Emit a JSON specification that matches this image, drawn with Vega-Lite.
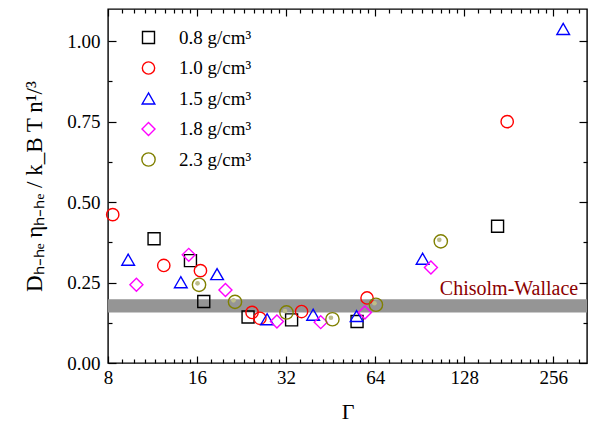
{
  "$schema": "https://vega.github.io/schema/vega-lite/v6.json",
  "width": 479,
  "height": 354,
  "autosize": {"type": "none"},
  "padding": {"left": 108, "top": 9, "right": 9, "bottom": 68},
  "background": "white",
  "config": {
    "view": {"stroke": "black", "strokeWidth": 1.4},
    "font": "Liberation Serif",
    "axis": {
      "grid": false,
      "domain": false,
      "labelFont": "Liberation Serif",
      "labelFontSize": 19,
      "labelColor": "black",
      "tickColor": "black",
      "tickWidth": 1.2,
      "titleFont": "Liberation Serif",
      "titleFontWeight": "normal",
      "titleColor": "black",
      "labelOverlap": false,
      "labelFlush": false
    },
    "legend": {
      "orient": "none",
      "legendX": 31,
      "legendY": 19,
      "padding": 0,
      "labelFont": "Liberation Serif",
      "labelFontSize": 19,
      "labelColor": "black",
      "labelOffset": 21,
      "rowPadding": 10.5,
      "symbolStrokeWidth": 1.4
    }
  },
  "datasets": {
    "pts": [
      {"rho": "0.8 g/cm³", "gamma": 11.45, "d": 0.386},
      {"rho": "0.8 g/cm³", "gamma": 15.2, "d": 0.318},
      {"rho": "0.8 g/cm³", "gamma": 16.86, "d": 0.191},
      {"rho": "0.8 g/cm³", "gamma": 23.8, "d": 0.143},
      {"rho": "0.8 g/cm³", "gamma": 33.4, "d": 0.134},
      {"rho": "0.8 g/cm³", "gamma": 55.6, "d": 0.129},
      {"rho": "0.8 g/cm³", "gamma": 166, "d": 0.425},
      {"rho": "1.0 g/cm³", "gamma": 8.3, "d": 0.461},
      {"rho": "1.0 g/cm³", "gamma": 12.35, "d": 0.303},
      {"rho": "1.0 g/cm³", "gamma": 16.43, "d": 0.287},
      {"rho": "1.0 g/cm³", "gamma": 24.55, "d": 0.157},
      {"rho": "1.0 g/cm³", "gamma": 26.1, "d": 0.139},
      {"rho": "1.0 g/cm³", "gamma": 36.1, "d": 0.16},
      {"rho": "1.0 g/cm³", "gamma": 60.1, "d": 0.202},
      {"rho": "1.0 g/cm³", "gamma": 178.9, "d": 0.75},
      {"rho": "1.5 g/cm³", "gamma": 9.36, "d": 0.321},
      {"rho": "1.5 g/cm³", "gamma": 14.1, "d": 0.251},
      {"rho": "1.5 g/cm³", "gamma": 18.7, "d": 0.276},
      {"rho": "1.5 g/cm³", "gamma": 27.6, "d": 0.136},
      {"rho": "1.5 g/cm³", "gamma": 39.5, "d": 0.15},
      {"rho": "1.5 g/cm³", "gamma": 55.4, "d": 0.146},
      {"rho": "1.5 g/cm³", "gamma": 92.6, "d": 0.324},
      {"rho": "1.5 g/cm³", "gamma": 276.7, "d": 1.038},
      {"rho": "1.8 g/cm³", "gamma": 9.98, "d": 0.243},
      {"rho": "1.8 g/cm³", "gamma": 15.0, "d": 0.336},
      {"rho": "1.8 g/cm³", "gamma": 19.96, "d": 0.227},
      {"rho": "1.8 g/cm³", "gamma": 29.8, "d": 0.129},
      {"rho": "1.8 g/cm³", "gamma": 41.9, "d": 0.127},
      {"rho": "1.8 g/cm³", "gamma": 59.1, "d": 0.157},
      {"rho": "1.8 g/cm³", "gamma": 98.8, "d": 0.297},
      {"rho": "2.3 g/cm³", "gamma": 16.25, "d": 0.243},
      {"rho": "2.3 g/cm³", "gamma": 21.5, "d": 0.19},
      {"rho": "2.3 g/cm³", "gamma": 32.1, "d": 0.157},
      {"rho": "2.3 g/cm³", "gamma": 45.9, "d": 0.136},
      {"rho": "2.3 g/cm³", "gamma": 64.4, "d": 0.181},
      {"rho": "2.3 g/cm³", "gamma": 106.7, "d": 0.378}
    ]
  },
  "layer": [
    {
      "data": {"values": [{"lo": 0.157, "hi": 0.198}]},
      "mark": {"type": "rect", "fill": "#959595", "stroke": null},
      "encoding": {
        "y": {"field": "lo", "type": "quantitative", "scale": {"domain": [0, 1.1], "nice": false}, "axis": null},
        "y2": {"field": "hi"}
      }
    },
    {
      "data": {"values": [{"x": 311, "y": 0.21, "label": "Chisolm-Wallace"}]},
      "mark": {"type": "text", "align": "right", "baseline": "alphabetic", "font": "Liberation Serif", "fontSize": 20, "color": "#8B0000"},
      "encoding": {
        "x": {"field": "x", "type": "quantitative", "axis": null},
        "y": {"field": "y", "type": "quantitative", "axis": null},
        "text": {"field": "label"}
      }
    },
    {
      "data": {"name": "pts"},
      "mark": {"type": "point", "filled": false, "strokeWidth": 1.4, "opacity": 1},
      "encoding": {
        "x": {
          "field": "gamma", "type": "quantitative",
          "scale": {"type": "log", "base": 2, "domain": [8, 333], "nice": false},
          "axis": {
            "orient": "bottom",
            "title": "Γ",
            "titleFontSize": 22,
            "titlePadding": 14,
            "values": [8, 16, 32, 64, 128, 256],
            "format": "d",
            "tickSize": -7,
            "labelPadding": 12
          }
        },
        "y": {
          "field": "d", "type": "quantitative",
          "scale": {"domain": [0, 1.1], "nice": false},
          "axis": {
            "orient": "left",
            "title": "Dₕ₋ₕₑ ηₕ₋ₕₑ / k_B T n¹/³",
            "titleFontSize": 23,
            "titlePadding": 20,
            "values": [0, 0.25, 0.5, 0.75, 1.0],
            "format": ".2f",
            "tickSize": -8,
            "labelPadding": 16
          }
        },
        "shape": {
          "field": "rho", "type": "nominal",
          "scale": {"domain": ["0.8 g/cm³", "1.0 g/cm³", "1.5 g/cm³", "1.8 g/cm³", "2.3 g/cm³"], "range": ["square", "circle", "triangle-up", "diamond", "circle"]},
          "legend": {"title": null}
        },
        "color": {
          "field": "rho", "type": "nominal",
          "scale": {"domain": ["0.8 g/cm³", "1.0 g/cm³", "1.5 g/cm³", "1.8 g/cm³", "2.3 g/cm³"], "range": ["#000000", "#FF0000", "#0000FF", "#FF00FF", "#808000"]},
          "legend": {"title": null}
        },
        "size": {
          "field": "rho", "type": "nominal",
          "scale": {"domain": ["0.8 g/cm³", "1.0 g/cm³", "1.5 g/cm³", "1.8 g/cm³", "2.3 g/cm³"], "range": [144, 177, 270, 225, 177]},
          "legend": {"title": null}
        }
      }
    },
    {
      "data": {"name": "pts"},
      "transform": [{"filter": "datum.rho === '2.3 g/cm³'"}],
      "mark": {"type": "circle", "color": "#bdbd8a", "opacity": 1, "size": 22, "xOffset": -1.5, "yOffset": -1.5},
      "encoding": {
        "x": {"field": "gamma", "type": "quantitative", "axis": null},
        "y": {"field": "d", "type": "quantitative", "axis": null}
      }
    },
    {
      "data": {"name": "pts"},
      "mark": {"type": "point", "opacity": 0},
      "encoding": {
        "x": {
          "field": "gamma", "type": "quantitative",
          "axis": {"orient": "top", "title": null, "labels": false, "values": [8, 16, 32, 64, 128, 256], "tickSize": -7}
        },
        "y": {
          "field": "d", "type": "quantitative",
          "axis": {"orient": "right", "title": null, "labels": false, "values": [0, 0.25, 0.5, 0.75, 1.0], "tickSize": -8}
        }
      }
    },
    {
      "data": {"name": "pts"},
      "mark": {"type": "point", "opacity": 0},
      "encoding": {
        "x": {
          "field": "gamma", "type": "quantitative",
          "axis": {"orient": "bottom", "title": null, "labels": false, "offset": 0, "tickSize": -4,
            "values": [8.889, 9.778, 10.667, 11.556, 12.444, 13.333, 14.222, 15.111, 17.778, 19.556, 21.333, 23.111, 24.889, 26.667, 28.444, 30.222, 35.556, 39.111, 42.667, 46.222, 49.778, 53.333, 56.889, 60.444, 71.111, 78.222, 85.333, 92.444, 99.556, 106.667, 113.778, 120.889, 142.222, 156.444, 170.667, 184.889, 199.111, 213.333, 227.556, 241.778, 284.444, 312.889]}
        },
        "y": {
          "field": "d", "type": "quantitative",
          "axis": {"orient": "left", "title": null, "labels": false, "offset": 0, "tickSize": -4, "values": [0.125, 0.375, 0.625, 0.875]}
        }
      }
    },
    {
      "data": {"name": "pts"},
      "mark": {"type": "point", "opacity": 0},
      "encoding": {
        "x": {
          "field": "gamma", "type": "quantitative",
          "axis": {"orient": "top", "title": null, "labels": false, "offset": 0, "tickSize": -4,
            "values": [8.889, 9.778, 10.667, 11.556, 12.444, 13.333, 14.222, 15.111, 17.778, 19.556, 21.333, 23.111, 24.889, 26.667, 28.444, 30.222, 35.556, 39.111, 42.667, 46.222, 49.778, 53.333, 56.889, 60.444, 71.111, 78.222, 85.333, 92.444, 99.556, 106.667, 113.778, 120.889, 142.222, 156.444, 170.667, 184.889, 199.111, 213.333, 227.556, 241.778, 284.444, 312.889]}
        },
        "y": {
          "field": "d", "type": "quantitative",
          "axis": {"orient": "right", "title": null, "labels": false, "offset": 0, "tickSize": -4, "values": [0.125, 0.375, 0.625, 0.875]}
        }
      }
    }
  ],
  "resolve": {"axis": {"x": "independent", "y": "independent"}}
}
